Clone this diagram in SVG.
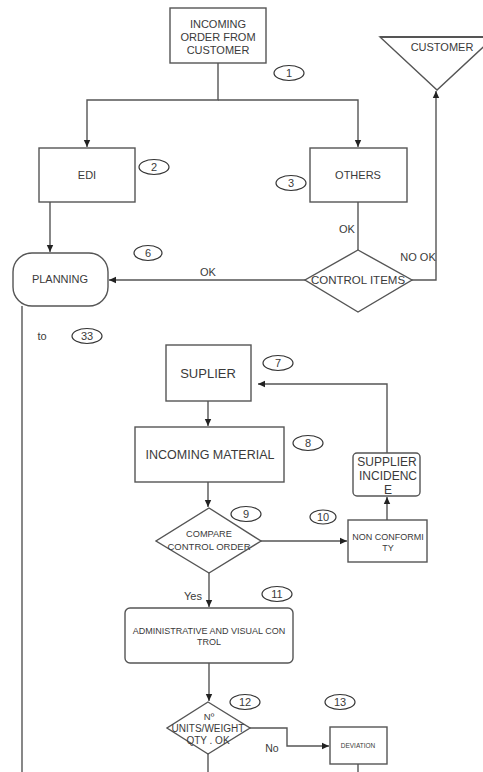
<svg xmlns="http://www.w3.org/2000/svg" width="483" height="772" viewBox="0 0 483 772">
<style>
.s{fill:#fff;stroke:#555;stroke-width:1.4}
.c{fill:none;stroke:#555;stroke-width:1.4}
.t{font-family:"Liberation Sans",Arial,sans-serif;fill:#3a3a3a;text-anchor:middle}
.n{fill:none;stroke:#333;stroke-width:1.2}
</style>
<defs>
<marker id="a" markerWidth="8" markerHeight="8" refX="7" refY="4" orient="auto" markerUnits="userSpaceOnUse">
<path d="M0,0.8 L7,4 L0,7.2 Z" fill="#222"/>
</marker>
</defs>
<rect width="483" height="772" fill="#fff"/>
<g id="connectors">
<path class="c" d="M218,63 V100 H87 V147" marker-end="url(#a)"/>
<path class="c" d="M218,100 H358 V147" marker-end="url(#a)"/>
<path class="c" d="M50,202 V252" marker-end="url(#a)"/>
<path class="c" d="M358,202 V250"/>
<path class="c" d="M305,280 H109" marker-end="url(#a)"/>
<path class="c" d="M412,280 H436 V91" marker-end="url(#a)"/>
<path class="c" d="M22,306 V772"/>
<path class="c" d="M208,401 V426" marker-end="url(#a)"/>
<path class="c" d="M387,453 V384 H258" marker-end="url(#a)"/>
<path class="c" d="M208,482 V507" marker-end="url(#a)"/>
<path class="c" d="M261,541 H347" marker-end="url(#a)"/>
<path class="c" d="M387,520 V497" marker-end="url(#a)"/>
<path class="c" d="M209,573 V607" marker-end="url(#a)"/>
<path class="c" d="M209,663 V701" marker-end="url(#a)"/>
<path class="c" d="M250,728 H287 V746 H329" marker-end="url(#a)"/>
<path class="c" d="M208,754 V772"/>
<path class="c" d="M358,764 V772"/>
<text class="t" x="347" y="233" font-size="11">OK</text>
<text class="t" x="208" y="276" font-size="11">OK</text>
<text class="t" x="418" y="261" font-size="11">NO OK</text>
<text class="t" x="193" y="600" font-size="11">Yes</text>
<text class="t" x="272" y="752" font-size="10.5">No</text>
<text class="t" x="42" y="340" font-size="11">to</text>
</g>
<g id="n1">
<rect class="s" x="170" y="8" width="96" height="55"/>
<text class="t" x="218" y="28" font-size="11">INCOMING</text>
<text class="t" x="218" y="41" font-size="11">ORDER FROM</text>
<text class="t" x="218" y="54" font-size="11">CUSTOMER</text>
</g>
<g id="customer">
<path class="s" d="M380,37 L494,37 L437,90 Z"/>
<path d="M380,37 H483" stroke="#555" stroke-width="2.2"/>
<text class="t" x="442" y="51" font-size="11">CUSTOMER</text>
</g>
<g id="edi">
<rect class="s" x="39" y="148" width="96" height="54"/>
<text class="t" x="87" y="179" font-size="11">EDI</text>
</g>
<g id="others">
<rect class="s" x="310" y="148" width="97" height="54"/>
<text class="t" x="358" y="179" font-size="11">OTHERS</text>
</g>
<g id="control-items">
<path class="s" d="M358,250 L412,280 L358,312 L305,280 Z"/>
<text class="t" x="358" y="284" font-size="11.5">CONTROL ITEMS</text>
</g>
<g id="planning">
<rect class="s" x="13" y="253" width="95" height="53" rx="19" ry="19"/>
<text class="t" x="60" y="283" font-size="11">PLANNING</text>
</g>
<g id="suplier">
<rect class="s" x="166" y="345" width="85" height="56"/>
<text class="t" x="208" y="378" font-size="13">SUPLIER</text>
</g>
<g id="incoming-material">
<rect class="s" x="135" y="427" width="149" height="55"/>
<text class="t" x="210" y="459" font-size="12.5">INCOMING MATERIAL</text>
</g>
<g id="supplier-incidence">
<rect class="s" x="353" y="453" width="67" height="43" rx="4"/>
<text class="t" x="387" y="466" font-size="12">SUPPLIER</text>
<text class="t" x="388" y="480" font-size="12">INCIDENC</text>
<text class="t" x="388" y="494" font-size="12">E</text>
</g>
<g id="compare">
<path class="s" d="M209,508 L261,541 L209,573 L156,541 Z"/>
<text class="t" x="209" y="537" font-size="9.2">COMPARE</text>
<text class="t" x="209" y="550" font-size="9.5">CONTROL ORDER</text>
</g>
<g id="non-conformity">
<rect class="s" x="348" y="520" width="79" height="42"/>
<text class="t" x="388" y="540" font-size="9">NON CONFORMI</text>
<text class="t" x="388" y="551" font-size="9">TY</text>
</g>
<g id="admin">
<rect class="s" x="125" y="608" width="168" height="55" rx="5"/>
<text class="t" x="209" y="634" font-size="9">ADMINISTRATIVE AND VISUAL CON</text>
<text class="t" x="209" y="645" font-size="9">TROL</text>
</g>
<g id="units">
<path class="s" d="M208,702 L250,728 L208,754 L167,728 Z"/>
<text class="t" x="209" y="720" font-size="9.5">Nº</text>
<text class="t" x="208" y="732" font-size="10">UNITS/WEIGHT</text>
<text class="t" x="208" y="744" font-size="10">QTY . OK</text>
</g>
<g id="deviation">
<rect class="s" x="330" y="727" width="57" height="37"/>
<text class="t" x="358" y="748" font-size="6.5">DEVIATION</text>
</g>
<g id="numbers">
<ellipse class="n" cx="289" cy="73" rx="15" ry="7.5"/><text class="t" x="289" y="77" font-size="11">1</text>
<ellipse class="n" cx="154" cy="167" rx="15" ry="7.5"/><text class="t" x="154" y="171" font-size="11">2</text>
<ellipse class="n" cx="291" cy="183" rx="15" ry="7.5"/><text class="t" x="291" y="187" font-size="11">3</text>
<ellipse class="n" cx="148" cy="253" rx="14" ry="7.5"/><text class="t" x="148" y="257" font-size="11">6</text>
<ellipse class="n" cx="87" cy="336" rx="15" ry="7.5"/><text class="t" x="87" y="340" font-size="11">33</text>
<ellipse class="n" cx="278" cy="363" rx="15" ry="7.5"/><text class="t" x="278" y="367" font-size="11">7</text>
<ellipse class="n" cx="308" cy="443" rx="15" ry="7.5"/><text class="t" x="308" y="447" font-size="11">8</text>
<ellipse class="n" cx="246" cy="514" rx="15" ry="7.5"/><text class="t" x="246" y="518" font-size="11">9</text>
<ellipse class="n" cx="323" cy="517" rx="13" ry="7"/><text class="t" x="323" y="521" font-size="11">10</text>
<ellipse class="n" cx="277" cy="594" rx="15" ry="7.5"/><text class="t" x="277" y="598" font-size="11">11</text>
<ellipse class="n" cx="245" cy="702" rx="15" ry="7.5"/><text class="t" x="245" y="706" font-size="11">12</text>
<ellipse class="n" cx="340" cy="702" rx="15" ry="7.5"/><text class="t" x="340" y="706" font-size="11">13</text>
</g>
</svg>
